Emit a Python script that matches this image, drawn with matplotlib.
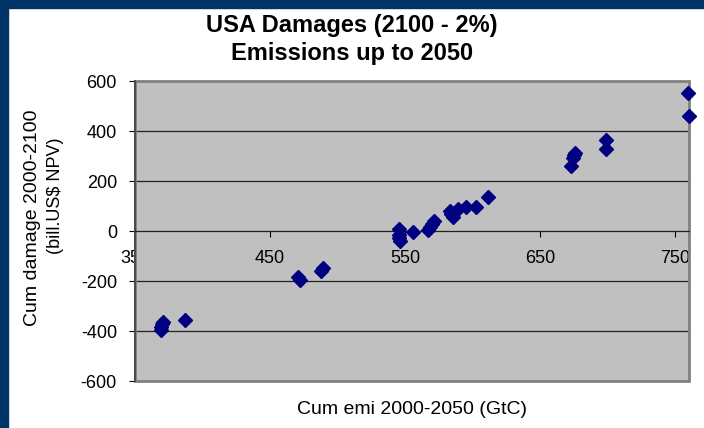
import matplotlib
matplotlib.use('Agg')
import matplotlib.pyplot as plt
from matplotlib.patches import Rectangle
from matplotlib.transforms import Bbox

plt.rcParams['font.family'] = ['Liberation Sans', 'DejaVu Sans']
plt.rcParams['axes.unicode_minus'] = False

# cumulative emissions 2000-2050 (GtC) vs cumulative damage (bill. US$ NPV)
emi = [369, 369.5, 370, 370.5, 387, 471, 472, 488, 489,
       545.5, 545.5, 545.5, 546, 555.5, 566.5, 568, 570, 571,
       583, 584, 585, 589, 595, 602, 611,
       673, 674, 675, 676, 698.5, 698.5, 759, 760]
damage = [-395, -382, -370, -362, -357, -183, -195, -158, -148,
          8, -15, -28, -38, -2, 5, 15, 28, 40,
          82, 68, 58, 87, 96, 98, 136,
          262, 292, 304, 314, 365, 330, 552, 462]

x_ticks = [350, 450, 550, 650, 750]
y_ticks = [-600, -400, -200, 0, 200, 400, 600]

W, H = 704, 428
fig = plt.figure(figsize=(W / 100, H / 100), dpi=100)
fig.patch.set_facecolor('white')

# blue frame on top and left
fig.patches.append(Rectangle((0, 1 - 8 / H), 1, 8 / H, transform=fig.transFigure,
                             color='#003366', zorder=0))
fig.patches.append(Rectangle((0, 0), 8 / W, 1, transform=fig.transFigure,
                             color='#003366', zorder=0))

left, right, top, bottom = 135, 689, 81, 381
ax = fig.add_axes([left / W, 1 - bottom / H, (right - left) / W, (bottom - top) / H])
ax.set_facecolor('#C0C0C0')

ax.plot(emi, damage, linestyle='none', marker='D', ms=7.5,
        color='#000080', mec='#000080', zorder=3, clip_on=False)

ax.set_xlim(350, 760)
ax.set_ylim(-600, 600)
ax.set_xticks(x_ticks)
ax.set_yticks(y_ticks)

for yv in y_ticks[1:-1]:
    if yv != 0:
        ax.axhline(yv, color='#202020', lw=0.9, zorder=1)

ax.spines['bottom'].set_position(('data', 0))
ax.spines['bottom'].set_color('#202020')
ax.spines['bottom'].set_linewidth(0.9)
ax.spines['left'].set_color('#404040')
ax.spines['left'].set_linewidth(1.2)
ax.spines['top'].set_visible(False)
ax.spines['right'].set_visible(False)
ax.add_patch(Rectangle((0, 0), 1, 1, transform=ax.transAxes, fill=False,
                       edgecolor='#808080', lw=2, clip_on=False, zorder=2))

ax.tick_params(axis='x', direction='out', length=4, width=0.8, pad=10,
               labelsize=13, colors='black')
ax.tick_params(axis='y', direction='out', length=4, width=0.8, pad=9,
               labelsize=13, colors='black')

# the first x label sits partly behind the plot area
lab350 = ax.get_xticklabels()[0]
lab350.set_clip_on(True)
lab350.set_clip_box(Bbox.from_extents(0, 0, left, H))

fig.text(0.5, 1 - 32 / H, 'USA Damages (2100 - 2%)', ha='center', va='baseline',
         fontsize=17, fontweight='bold')
fig.text(0.5, 1 - 60 / H, 'Emissions up to 2050', ha='center', va='baseline',
         fontsize=17, fontweight='bold')

fig.text(0.5 * (left + right) / W, 1 - 410 / H, 'Cum emi 2000-2050 (GtC)',
         ha='center', va='center', fontsize=14)

t1 = fig.text(33 / W, 1 - 218 / H, 'Cum damage 2000-2100', rotation=90,
              ha='center', va='center', fontsize=14)
t1.set_clip_on(True)
t1.set_clip_box(Bbox.from_extents(0, 0, W, H - 107))
fig.text(56 / W, 1 - 196 / H, '(bill.US$ NPV)', rotation=90,
         ha='center', va='center', fontsize=13)

fig.savefig('out.png', dpi=100, facecolor=fig.get_facecolor())
